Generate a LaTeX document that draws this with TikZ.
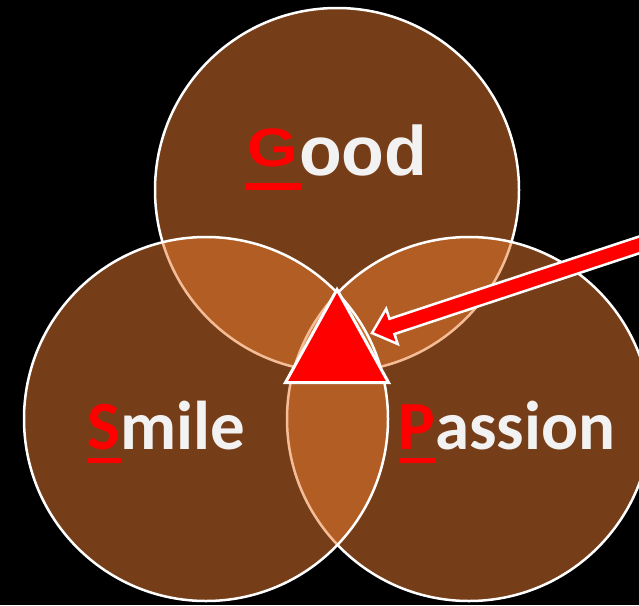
\documentclass[tikz,border=0pt]{standalone}
\usepackage{fontspec}
\newfontfamily\carl{Carlito}
\newfontfamily\libs{Liberation Sans}
\definecolor{vorange}{HTML}{ED7D31}
\definecolor{vtext}{HTML}{F2F2F2}
\begin{document}
\begin{tikzpicture}[x=1pt,y=-1pt,
  circ/.style={circle, minimum size=364pt, inner sep=0pt, draw=white, line width=2.5pt, fill=vorange, fill opacity=0.5, draw opacity=1},
  word/.style={anchor=base west, inner sep=0pt, text=vtext, font=\carl\bfseries\fontsize{69}{69}\selectfont},
  initial/.style={anchor=base west, inner sep=0pt, text=red, font=\carl\bfseries\fontsize{69}{69}\selectfont},
  uline/.style={fill=red}]
\useasboundingbox (0,0) rectangle (639,605);
\fill[black] (0,0) rectangle (639,605);
\clip (0,0) rectangle (639,605);
% circles (order: top, right, left)
\node[circ] (cgood) at (337,190) {};
\node[circ] (cpass) at (469,419) {};
\node[circ] (csmile) at (206,419) {};
% triangle
\coordinate (ta) at (337,289.5);
\coordinate (tl) at (285.5,382.5);
\coordinate (tr) at (388.5,382.5);
\filldraw[fill=red, draw=white, line width=3pt, line join=miter] (ta) -- (tl) -- (tr) -- cycle;
% arrow
\coordinate (tip) at (372,333);
\begin{scope}[shift={(tip)}, rotate=18.25]
\filldraw[fill=red, draw=white, line width=2.5pt, line join=miter]
  (0,0) -- (21,18.5) -- (21,8) -- (330,8) -- (330,-8) -- (21,-8) -- (21,-18.5) -- cycle;
\end{scope}
% texts
\node[anchor=base west, inner sep=0pt, text=red, font=\libs\bfseries\fontsize{54}{54}\selectfont] (gG) at (247,166) {\scalebox{1.2}[1]{G}};
\node[anchor=base west, inner sep=0pt, text=vtext, font=\libs\bfseries\fontsize{70}{70}\selectfont] (good) at (299,175) {ood};
\fill[uline] (245,183) rectangle (302,190);
\node[initial] (sS) at (87,449) {S};
\node[word] (smile) at (sS.base east) {mile};
\fill[uline] (87,458) rectangle (121,463);
\node[initial] (pP) at (398,449) {P};
\node[word] (passion) at (pP.base east) {assion};
\fill[uline] (399,458) rectangle (435,463);
\end{tikzpicture}
\end{document}
